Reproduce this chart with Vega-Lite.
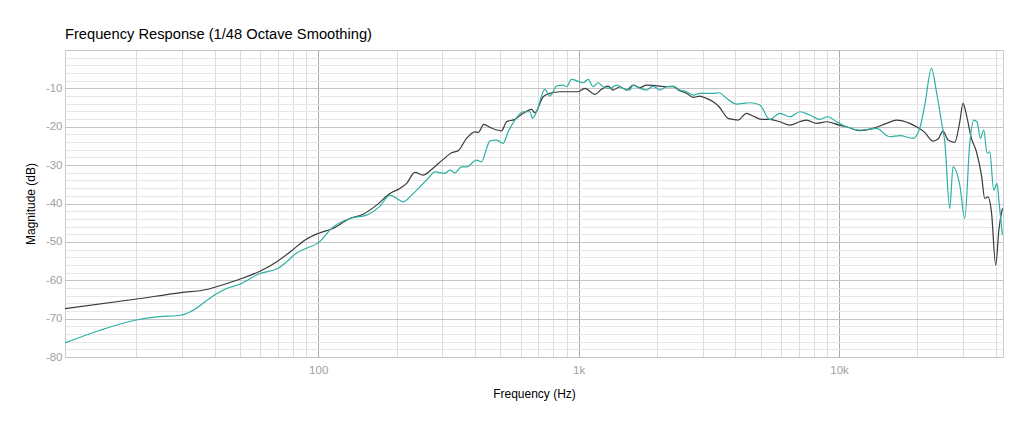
{
  "$schema": "https://vega.github.io/schema/vega-lite/v6.json",
  "width": 938,
  "height": 307,
  "autosize": "none",
  "padding": {"left": 65, "top": 50, "right": 21, "bottom": 70},
  "background": "white",
  "config": {
    "font": "Liberation Sans",
    "view": {"stroke": "#cccccc"}
  },
  "title": {
    "text": "Frequency Response (1/48 Octave Smoothing)",
    "anchor": "start",
    "frame": "group",
    "fontSize": 14.7,
    "fontWeight": "normal",
    "color": "black",
    "offset": 2
  },
  "data": {
    "values": [
      {"series": "A", "freq": 10.66, "db": -67.37},
      {"series": "A", "freq": 19.79, "db": -64.95},
      {"series": "A", "freq": 29.72, "db": -63.2},
      {"series": "A", "freq": 37.29, "db": -62.42},
      {"series": "A", "freq": 39.79, "db": -61.89},
      {"series": "A", "freq": 49.6, "db": -59.81},
      {"series": "A", "freq": 59.73, "db": -57.64},
      {"series": "A", "freq": 69.85, "db": -55.03},
      {"series": "A", "freq": 79.48, "db": -52.16},
      {"series": "A", "freq": 89.7, "db": -49.37},
      {"series": "A", "freq": 100, "db": -47.81},
      {"series": "A", "freq": 113.9, "db": -46.5},
      {"series": "A", "freq": 132.3, "db": -43.9},
      {"series": "A", "freq": 148.8, "db": -42.78},
      {"series": "A", "freq": 167.6, "db": -40.43},
      {"series": "A", "freq": 188.5, "db": -37.38},
      {"series": "A", "freq": 205.9, "db": -36.07},
      {"series": "A", "freq": 218.5, "db": -34.77},
      {"series": "A", "freq": 235.1, "db": -31.9},
      {"series": "A", "freq": 253.0, "db": -32.6},
      {"series": "A", "freq": 272.4, "db": -31.12},
      {"series": "A", "freq": 301.8, "db": -28.51},
      {"series": "A", "freq": 325.1, "db": -26.79},
      {"series": "A", "freq": 344.6, "db": -26.26},
      {"series": "A", "freq": 371.2, "db": -23.03},
      {"series": "A", "freq": 399.6, "db": -21.31},
      {"series": "A", "freq": 411.5, "db": -21.47},
      {"series": "A", "freq": 432.6, "db": -19.38},
      {"series": "A", "freq": 456.1, "db": -20.16},
      {"series": "A", "freq": 505.8, "db": -21.05},
      {"series": "A", "freq": 528.7, "db": -18.7},
      {"series": "A", "freq": 569.0, "db": -18.08},
      {"series": "A", "freq": 612.4, "db": -16.51},
      {"series": "A", "freq": 659.6, "db": -15.47},
      {"series": "A", "freq": 679.2, "db": -16.35},
      {"series": "A", "freq": 730.7, "db": -12.18},
      {"series": "A", "freq": 775.3, "db": -11.29},
      {"series": "A", "freq": 847.0, "db": -10.88},
      {"series": "A", "freq": 925.2, "db": -10.88},
      {"series": "A", "freq": 995.6, "db": -10.88},
      {"series": "A", "freq": 1056.4, "db": -9.99},
      {"series": "A", "freq": 1155.5, "db": -11.55},
      {"series": "A", "freq": 1224.1, "db": -10.25},
      {"series": "A", "freq": 1297.6, "db": -9.39},
      {"series": "A", "freq": 1356.4, "db": -10.43},
      {"series": "A", "freq": 1439.0, "db": -9.57},
      {"series": "A", "freq": 1527.2, "db": -10.43},
      {"series": "A", "freq": 1619.0, "db": -9.13},
      {"series": "A", "freq": 1717.8, "db": -9.83},
      {"series": "A", "freq": 1822.8, "db": -9.13},
      {"series": "A", "freq": 1931.9, "db": -9.21},
      {"series": "A", "freq": 2049.8, "db": -9.39},
      {"series": "A", "freq": 2175.4, "db": -9.57},
      {"series": "A", "freq": 2305.9, "db": -9.57},
      {"series": "A", "freq": 2446.6, "db": -10.62},
      {"series": "A", "freq": 2596.1, "db": -11.29},
      {"series": "A", "freq": 2752.2, "db": -12.34},
      {"series": "A", "freq": 2919.5, "db": -12.0},
      {"series": "A", "freq": 3097.5, "db": -12.6},
      {"series": "A", "freq": 3283.6, "db": -13.48},
      {"series": "A", "freq": 3462.5, "db": -14.79},
      {"series": "A", "freq": 3749.7, "db": -17.81},
      {"series": "A", "freq": 3919.6, "db": -18.08},
      {"series": "A", "freq": 4096.8, "db": -18.26},
      {"series": "A", "freq": 4411.0, "db": -16.51},
      {"series": "A", "freq": 4675.9, "db": -17.21},
      {"series": "A", "freq": 5037.6, "db": -18.08},
      {"series": "A", "freq": 5420.1, "db": -18.08},
      {"series": "A", "freq": 5921.0, "db": -18.7},
      {"series": "A", "freq": 6467.7, "db": -19.56},
      {"series": "A", "freq": 7066.4, "db": -18.7},
      {"series": "A", "freq": 7497.0, "db": -18.26},
      {"series": "A", "freq": 8189.5, "db": -19.12},
      {"series": "A", "freq": 8945.9, "db": -18.7},
      {"series": "A", "freq": 10000, "db": -19.56},
      {"series": "A", "freq": 10676, "db": -20.01},
      {"series": "A", "freq": 12013, "db": -21.0},
      {"series": "A", "freq": 13508, "db": -20.42},
      {"series": "A", "freq": 15205, "db": -19.12},
      {"series": "A", "freq": 16611, "db": -18.26},
      {"series": "A", "freq": 18680, "db": -19.12},
      {"series": "A", "freq": 19820, "db": -20.01},
      {"series": "A", "freq": 21330, "db": -21.47},
      {"series": "A", "freq": 22950, "db": -23.73},
      {"series": "A", "freq": 23990, "db": -23.21},
      {"series": "A", "freq": 25070, "db": -21.13},
      {"series": "A", "freq": 26210, "db": -23.47},
      {"series": "A", "freq": 27800, "db": -24.07},
      {"series": "A", "freq": 29070, "db": -18.7},
      {"series": "A", "freq": 29920, "db": -13.9},
      {"series": "A", "freq": 30840, "db": -16.95},
      {"series": "A", "freq": 32230, "db": -23.03},
      {"series": "A", "freq": 33690, "db": -26.53},
      {"series": "A", "freq": 35210, "db": -32.6},
      {"series": "A", "freq": 36260, "db": -38.68},
      {"series": "A", "freq": 37330, "db": -38.26},
      {"series": "A", "freq": 38460, "db": -42.17},
      {"series": "A", "freq": 39950, "db": -56.08},
      {"series": "A", "freq": 41130, "db": -46.5},
      {"series": "A", "freq": 42380, "db": -41.29},
      {"series": "B", "freq": 10.66, "db": -76.34},
      {"series": "B", "freq": 14.52, "db": -73.03},
      {"series": "B", "freq": 19.79, "db": -70.42},
      {"series": "B", "freq": 23.97, "db": -69.56},
      {"series": "B", "freq": 29.72, "db": -69.12},
      {"series": "B", "freq": 32.16, "db": -68.26},
      {"series": "B", "freq": 39.9, "db": -63.9},
      {"series": "B", "freq": 44.5, "db": -62.15},
      {"series": "B", "freq": 49.7, "db": -61.11},
      {"series": "B", "freq": 59.73, "db": -58.24},
      {"series": "B", "freq": 69.85, "db": -56.94},
      {"series": "B", "freq": 75.6, "db": -55.22},
      {"series": "B", "freq": 82.6, "db": -52.87},
      {"series": "B", "freq": 89.7, "db": -51.72},
      {"series": "B", "freq": 100, "db": -50.26},
      {"series": "B", "freq": 114.2, "db": -46.09},
      {"series": "B", "freq": 132.3, "db": -43.9},
      {"series": "B", "freq": 153.4, "db": -43.04},
      {"series": "B", "freq": 172.5, "db": -40.69},
      {"series": "B", "freq": 188.5, "db": -37.82},
      {"series": "B", "freq": 200, "db": -38.68},
      {"series": "B", "freq": 212.0, "db": -39.57},
      {"series": "B", "freq": 228.3, "db": -37.82},
      {"series": "B", "freq": 245.7, "db": -35.65},
      {"series": "B", "freq": 264.5, "db": -33.46},
      {"series": "B", "freq": 280.5, "db": -31.74},
      {"series": "B", "freq": 306.4, "db": -32.16},
      {"series": "B", "freq": 320.3, "db": -31.3},
      {"series": "B", "freq": 334.8, "db": -32.0},
      {"series": "B", "freq": 355.1, "db": -30.44},
      {"series": "B", "freq": 371.2, "db": -30.44},
      {"series": "B", "freq": 405.7, "db": -28.69},
      {"series": "B", "freq": 424.1, "db": -29.13},
      {"series": "B", "freq": 443.2, "db": -25.64},
      {"series": "B", "freq": 456.1, "db": -23.66},
      {"series": "B", "freq": 484.0, "db": -23.47},
      {"series": "B", "freq": 513.0, "db": -24.33},
      {"series": "B", "freq": 536.3, "db": -21.31},
      {"series": "B", "freq": 569.0, "db": -18.26},
      {"series": "B", "freq": 612.4, "db": -16.09},
      {"series": "B", "freq": 649.8, "db": -16.09},
      {"series": "B", "freq": 665.4, "db": -17.81},
      {"series": "B", "freq": 689.4, "db": -16.09},
      {"series": "B", "freq": 741.9, "db": -10.25},
      {"series": "B", "freq": 775.3, "db": -12.0},
      {"series": "B", "freq": 822.8, "db": -9.39},
      {"series": "B", "freq": 872.2, "db": -9.13},
      {"series": "B", "freq": 898.9, "db": -9.57},
      {"series": "B", "freq": 939.1, "db": -7.64},
      {"series": "B", "freq": 1004.4, "db": -8.27},
      {"series": "B", "freq": 1040.6, "db": -8.53},
      {"series": "B", "freq": 1087.6, "db": -7.64},
      {"series": "B", "freq": 1137.3, "db": -9.57},
      {"series": "B", "freq": 1188.7, "db": -8.53},
      {"series": "B", "freq": 1241.6, "db": -9.57},
      {"series": "B", "freq": 1317.8, "db": -9.99},
      {"series": "B", "freq": 1398.4, "db": -9.13},
      {"series": "B", "freq": 1481.7, "db": -9.99},
      {"series": "B", "freq": 1572.1, "db": -10.43},
      {"series": "B", "freq": 1619.0, "db": -9.13},
      {"series": "B", "freq": 1717.8, "db": -9.99},
      {"series": "B", "freq": 1822.8, "db": -10.43},
      {"series": "B", "freq": 1931.9, "db": -9.39},
      {"series": "B", "freq": 2049.8, "db": -10.43},
      {"series": "B", "freq": 2175.4, "db": -9.57},
      {"series": "B", "freq": 2305.9, "db": -9.39},
      {"series": "B", "freq": 2446.6, "db": -10.43},
      {"series": "B", "freq": 2596.1, "db": -10.88},
      {"series": "B", "freq": 2752.2, "db": -11.74},
      {"series": "B", "freq": 2919.5, "db": -11.29},
      {"series": "B", "freq": 3097.5, "db": -11.29},
      {"series": "B", "freq": 3283.6, "db": -11.29},
      {"series": "B", "freq": 3462.5, "db": -11.14},
      {"series": "B", "freq": 3696.6, "db": -12.6},
      {"series": "B", "freq": 4038.5, "db": -14.08},
      {"series": "B", "freq": 4541.8, "db": -13.75},
      {"series": "B", "freq": 4961.0, "db": -14.35},
      {"series": "B", "freq": 5420.1, "db": -18.08},
      {"series": "B", "freq": 5921.0, "db": -16.51},
      {"series": "B", "freq": 6467.7, "db": -17.4},
      {"series": "B", "freq": 7066.4, "db": -16.09},
      {"series": "B", "freq": 7717.8, "db": -16.95},
      {"series": "B", "freq": 8432.0, "db": -18.08},
      {"series": "B", "freq": 9074.7, "db": -17.4},
      {"series": "B", "freq": 9772.4, "db": -18.7},
      {"series": "B", "freq": 10676, "db": -20.01},
      {"series": "B", "freq": 12013, "db": -20.87},
      {"series": "B", "freq": 13920, "db": -20.42},
      {"series": "B", "freq": 15650, "db": -22.61},
      {"series": "B", "freq": 17100, "db": -22.3},
      {"series": "B", "freq": 19240, "db": -23.03},
      {"series": "B", "freq": 20400, "db": -20.42},
      {"series": "B", "freq": 21330, "db": -14.35},
      {"series": "B", "freq": 22630, "db": -4.77},
      {"series": "B", "freq": 23650, "db": -10.88},
      {"series": "B", "freq": 24720, "db": -18.7},
      {"series": "B", "freq": 25460, "db": -23.92},
      {"series": "B", "freq": 26610, "db": -41.29},
      {"series": "B", "freq": 27390, "db": -30.44},
      {"series": "B", "freq": 29070, "db": -35.21},
      {"series": "B", "freq": 30380, "db": -43.9},
      {"series": "B", "freq": 31750, "db": -24.33},
      {"series": "B", "freq": 32890, "db": -18.26},
      {"series": "B", "freq": 33870, "db": -18.7},
      {"series": "B", "freq": 34900, "db": -23.03},
      {"series": "B", "freq": 35940, "db": -20.87},
      {"series": "B", "freq": 37010, "db": -26.94},
      {"series": "B", "freq": 37890, "db": -26.53},
      {"series": "B", "freq": 39250, "db": -36.52},
      {"series": "B", "freq": 40410, "db": -34.77},
      {"series": "B", "freq": 41130, "db": -39.57},
      {"series": "B", "freq": 42380, "db": -48.25}
    ]
  },
  "mark": {"type": "line", "strokeWidth": 1.2, "interpolate": "monotone", "clip": true},
  "encoding": {
    "x": {
      "field": "freq",
      "type": "quantitative",
      "scale": {"type": "log", "domain": [10.66, 42600], "nice": false},
      "axis": {
        "values": [20, 30, 40, 50, 60, 70, 80, 90, 100, 200, 300, 400, 500, 600, 700, 800, 900, 1000, 2000, 3000, 4000, 5000, 6000, 7000, 8000, 9000, 10000, 20000, 30000, 40000],
        "labelExpr": "datum.value == 100 ? '100' : datum.value == 1000 ? '1k' : datum.value == 10000 ? '10k' : ''",
        "grid": true,
        "gridColor": {"condition": {"test": "datum.value == 100 || datum.value == 1000 || datum.value == 10000", "value": "#aaaaaa"}, "value": "#dedede"},
        "ticks": false,
        "domain": false,
        "labelOverlap": false,
        "labelFlush": false,
        "labelColor": "#a0a0a0",
        "labelFontSize": 11.5,
        "labelPadding": 7,
        "title": "Frequency (Hz)",
        "titleFontWeight": "normal",
        "titleFontSize": 12,
        "titleColor": "black",
        "titlePadding": 13
      }
    },
    "y": {
      "field": "db",
      "type": "quantitative",
      "scale": {"domain": [-80, 0], "nice": false},
      "axis": {
        "values": [-80, -78, -76, -74, -72, -70, -68, -66, -64, -62, -60, -58, -56, -54, -52, -50, -48, -46, -44, -42, -40, -38, -36, -34, -32, -30, -28, -26, -24, -22, -20, -18, -16, -14, -12, -10, -8, -6, -4, -2, 0],
        "labelExpr": "datum.value % 10 == 0 && datum.value != 0 ? '' + datum.value : ''",
        "grid": true,
        "gridColor": {"condition": {"test": "datum.value % 10 == 0", "value": "#c4c4c4"}, "value": "#e6e6e6"},
        "ticks": false,
        "domain": false,
        "labelOverlap": false,
        "labelFlush": false,
        "labelColor": "#a0a0a0",
        "labelFontSize": 11.5,
        "labelPadding": 3,
        "title": "Magnitude (dB)",
        "titleFontWeight": "normal",
        "titleFontSize": 12,
        "titleColor": "black",
        "titlePadding": 8
      }
    },
    "color": {
      "field": "series",
      "type": "nominal",
      "scale": {"domain": ["A", "B"], "range": ["#3a3a3a", "#2bb0a4"]},
      "legend": null
    }
  }
}
